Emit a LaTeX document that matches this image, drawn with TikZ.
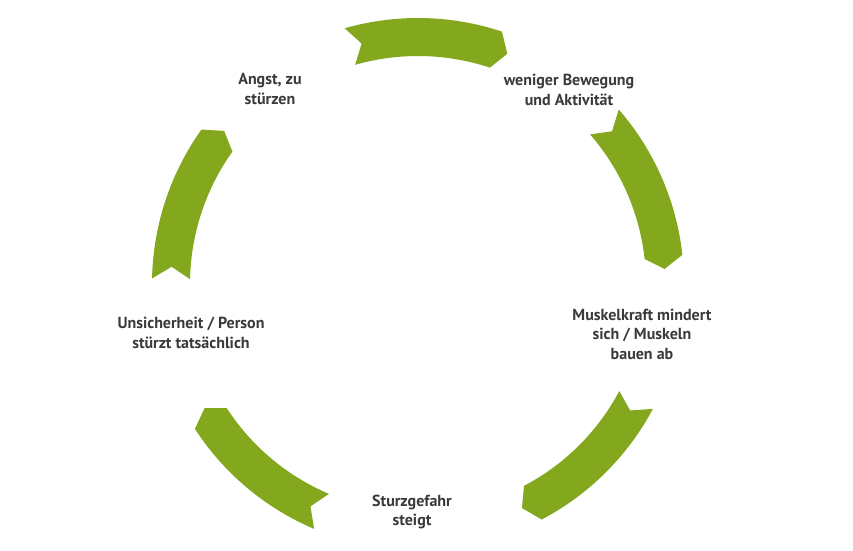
\documentclass[tikz,border=0pt]{standalone}
\usepackage{fontspec}
\setmainfont{PT Sans}
\usepackage{xcolor}
\usetikzlibrary{calc}

\definecolor{cyclegreen}{RGB}{131,168,30}
\definecolor{labelgray}{RGB}{58,58,58}

\begin{document}
\begin{tikzpicture}[x=1pt,y=1pt,
    steptext/.style={font=\fontsize{16}{19.5}\selectfont\bfseries, text=labelgray, align=center, inner sep=0pt}]

% Page frame
\fill[white] (0,0) rectangle (853,550);
\useasboundingbox (0,0) rectangle (853,550);
\coordinate (centre) at (418,266);

% Green arrow pieces (tail angle / head angle), running clockwise
\foreach \a/\b in {106/71.6, 41/6.3, -28/-62.3, -113/-147, 178.8/144.5} {
    \fill[cyclegreen] ($(centre)+(\a:266)$) arc[start angle=\a, end angle=\b, radius=266]
        -- ($(centre)+(\b-2.8:247)$) -- ($(centre)+(\b:228)$)
        arc[start angle=\b, end angle=\a, radius=228]
        -- ($(centre)+(\a-2.8:247)$) -- cycle;
}

% Step labels
\node[steptext] (angst) at (270,461) {Angst, zu\\stürzen};
\node[steptext] (bewegung) at (569,460) {weniger Bewegung\\und Aktivität};
\node[steptext] (muskel) at (642,216) {Muskelkraft mindert\\sich / Muskeln\\bauen ab};
\node[steptext] (sturz) at (412,38) {Sturzgefahr\\steigt};
\node[steptext] (unsicher) at (191,217) {Unsicherheit / Person\\stürzt tatsächlich};

\end{tikzpicture}
\end{document}
